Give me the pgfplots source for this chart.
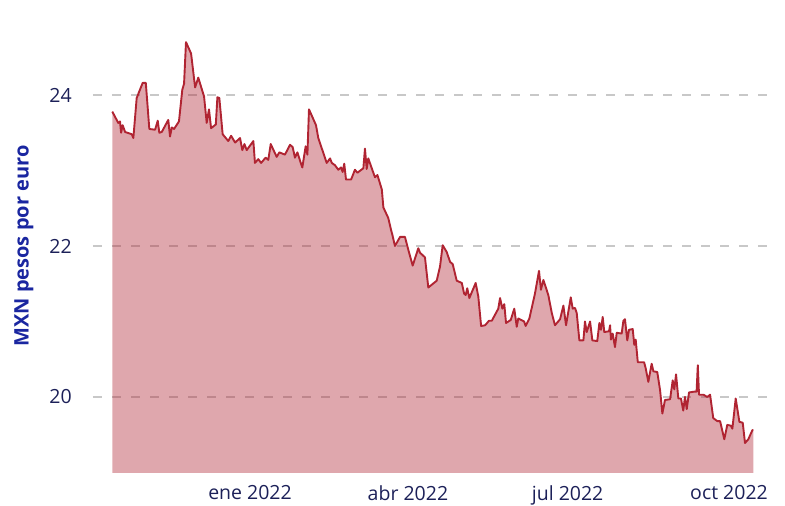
\documentclass[border=0pt]{standalone}
\usepackage{fontspec}
\setmainfont{Open Sans}
\usepackage{pgfplots}
\pgfplotsset{compat=1.18}
\definecolor{linecol}{RGB}{176,36,50}
\definecolor{tickcol}{RGB}{28,32,88}
\definecolor{labcol}{RGB}{26,38,160}
\definecolor{gridcol}{RGB}{200,200,200}
\begin{document}
\begin{tikzpicture}
\begin{axis}[
  scale only axis,
  width=682pt, height=438.4pt,
  xmin=-89.5, xmax=299.2,
  ymin=18.993, ymax=24.8,
  axis line style={draw=none},
  major tick length=0pt,
  xtick={0,90,181,273},
  xticklabels={ene 2022,abr 2022,jul 2022,oct 2022},
  ytick={20,22,24},
  /pgf/number format/assume math mode=true,
  ymajorgrids,
  major grid style={gridcol, line width=1.2pt, dash pattern=on 9pt off 10pt},
  tick label style={font=\fontsize{19.5}{22}\selectfont, text=tickcol},
  yticklabel style={inner sep=0pt, xshift=-21pt},
  xticklabel style={inner sep=0pt, yshift=-12pt},
  every axis y label/.style={at={(axis cs:-89.5,22)}, xshift=-69pt, rotate=90, anchor=center},
  ylabel={MXN pesos por euro},
  ylabel style={font=\fontsize{20}{23}\selectfont\bfseries, text=labcol},
  clip=true,
]
\addplot[draw=none, fill=linecol, fill opacity=0.4] coordinates {
(-78.5,23.78) (-75.1,23.63) (-74.1,23.65) (-73.5,23.50) (-72.6,23.60) (-71.2,23.51) (-67.4,23.48) (-66.5,23.43)
(-64.6,23.96) (-61.2,24.16) (-59.4,24.16) (-57.4,23.55) (-54.1,23.54) (-52.6,23.66) (-51.7,23.50) (-50.3,23.51)
(-46.6,23.67) (-45.6,23.45) (-44.6,23.57) (-43.3,23.55) (-40.5,23.65) (-38.6,24.07) (-37.6,24.15) (-36.5,24.70)
(-33.6,24.55) (-31.3,24.10) (-29.5,24.23) (-26.2,23.98) (-24.7,23.63) (-23.4,23.81) (-22.2,23.56) (-19.5,23.61)
(-18.6,23.97) (-17.5,23.96) (-15.6,23.48) (-12.4,23.39) (-10.8,23.46) (-8.5,23.37) (-5.7,23.43) (-4.4,23.27)
(-3.2,23.35) (-1.9,23.27) (1.9,23.39) (2.8,23.10) (4.7,23.15) (6.3,23.10) (8.9,23.17) (10.4,23.14)
(11.8,23.35) (15.2,23.18) (16.7,23.24) (19.9,23.21) (22.8,23.34) (24.3,23.31) (25.6,23.17) (27.0,23.24)
(28.5,23.13) (29.8,23.04) (31.7,23.32) (32.7,23.21) (33.6,23.81) (37.6,23.60) (38.9,23.43) (43.7,23.10)
(45.6,23.16) (46.6,23.10) (48.4,23.07) (50.3,23.01) (51.9,23.04) (52.8,22.98) (53.7,23.09) (54.7,22.88)
(57.6,22.88) (59.8,23.01) (61.2,22.97) (64.6,23.03) (65.5,23.29) (66.5,23.02) (67.4,23.16) (71.2,22.91)
(72.6,22.94) (75.1,22.75) (76.0,22.51) (78.8,22.37) (80.4,22.21) (81.1,22.15) (82.6,22.00) (85.5,22.12)
(88.3,22.12) (90.2,21.95) (92.7,21.74) (95.9,21.97) (96.9,21.91) (99.7,21.85) (101.6,21.45) (106.4,21.54)
(108.3,21.73) (109.8,22.01) (112.1,21.92) (114.0,21.79) (115.5,21.76) (117.8,21.54) (120.7,21.51) (122.0,21.37)
(122.9,21.35) (123.8,21.44) (125.0,21.31) (128.6,21.51) (130.1,21.33) (131.7,20.94) (134.0,20.95) (136.2,21.01)
(137.8,21.01) (141.5,21.17) (142.5,21.31) (143.8,21.17) (144.9,21.23) (145.9,20.98) (148.6,21.02) (150.6,21.17)
(152.0,20.93) (152.9,21.04) (156.2,21.00) (157.1,20.94) (159.2,21.04) (162.4,21.37) (164.7,21.67) (165.8,21.42)
(167.2,21.55) (170.0,21.35) (172.0,21.11) (173.8,20.95) (176.7,21.03) (178.6,21.21) (180.1,20.95) (182.8,21.32)
(183.9,21.17) (185.2,21.18) (186.2,21.11) (187.7,20.75) (190.0,20.75) (190.9,21.00) (191.9,20.86) (193.8,21.00)
(195.1,20.75) (197.9,20.74) (199.1,20.98) (200.0,20.89) (201.0,21.06) (201.9,20.86) (204.6,20.87) (205.2,20.95)
(205.7,20.76) (206.7,20.84) (208.0,20.66) (209.0,20.85) (211.8,20.84) (212.8,21.01) (213.7,21.03) (215.0,20.75)
(216.0,20.89) (218.1,20.90) (219.0,20.69) (219.8,20.76) (221.0,20.46) (224.6,20.46) (225.5,20.38) (227.0,20.20)
(228.9,20.44) (229.9,20.34) (232.1,20.33) (233.7,20.09) (235.0,19.78) (236.5,19.96) (239.4,19.97) (240.9,20.22)
(241.8,20.10) (242.8,20.30) (244.1,19.98) (245.6,19.98) (246.9,19.82) (247.9,20.00) (248.9,19.84) (250.2,20.06)
(253.0,20.07) (254.5,20.07) (255.2,20.42) (255.9,20.03) (258.4,20.03) (260.6,20.00) (262.2,20.03) (264.0,19.72)
(266.3,19.68) (267.9,19.68) (270.3,19.44) (272.0,19.63) (274.0,19.62) (274.9,19.58) (276.8,19.98) (278.9,19.67)
(280.8,19.66) (282.1,19.39) (284.0,19.44) (286.3,19.56) (286.8,19.56)
} \closedcycle;
\addplot[linecol, line width=1.9pt, line join=round] coordinates {
(-78.5,23.78) (-75.1,23.63) (-74.1,23.65) (-73.5,23.50) (-72.6,23.60) (-71.2,23.51) (-67.4,23.48) (-66.5,23.43)
(-64.6,23.96) (-61.2,24.16) (-59.4,24.16) (-57.4,23.55) (-54.1,23.54) (-52.6,23.66) (-51.7,23.50) (-50.3,23.51)
(-46.6,23.67) (-45.6,23.45) (-44.6,23.57) (-43.3,23.55) (-40.5,23.65) (-38.6,24.07) (-37.6,24.15) (-36.5,24.70)
(-33.6,24.55) (-31.3,24.10) (-29.5,24.23) (-26.2,23.98) (-24.7,23.63) (-23.4,23.81) (-22.2,23.56) (-19.5,23.61)
(-18.6,23.97) (-17.5,23.96) (-15.6,23.48) (-12.4,23.39) (-10.8,23.46) (-8.5,23.37) (-5.7,23.43) (-4.4,23.27)
(-3.2,23.35) (-1.9,23.27) (1.9,23.39) (2.8,23.10) (4.7,23.15) (6.3,23.10) (8.9,23.17) (10.4,23.14)
(11.8,23.35) (15.2,23.18) (16.7,23.24) (19.9,23.21) (22.8,23.34) (24.3,23.31) (25.6,23.17) (27.0,23.24)
(28.5,23.13) (29.8,23.04) (31.7,23.32) (32.7,23.21) (33.6,23.81) (37.6,23.60) (38.9,23.43) (43.7,23.10)
(45.6,23.16) (46.6,23.10) (48.4,23.07) (50.3,23.01) (51.9,23.04) (52.8,22.98) (53.7,23.09) (54.7,22.88)
(57.6,22.88) (59.8,23.01) (61.2,22.97) (64.6,23.03) (65.5,23.29) (66.5,23.02) (67.4,23.16) (71.2,22.91)
(72.6,22.94) (75.1,22.75) (76.0,22.51) (78.8,22.37) (80.4,22.21) (81.1,22.15) (82.6,22.00) (85.5,22.12)
(88.3,22.12) (90.2,21.95) (92.7,21.74) (95.9,21.97) (96.9,21.91) (99.7,21.85) (101.6,21.45) (106.4,21.54)
(108.3,21.73) (109.8,22.01) (112.1,21.92) (114.0,21.79) (115.5,21.76) (117.8,21.54) (120.7,21.51) (122.0,21.37)
(122.9,21.35) (123.8,21.44) (125.0,21.31) (128.6,21.51) (130.1,21.33) (131.7,20.94) (134.0,20.95) (136.2,21.01)
(137.8,21.01) (141.5,21.17) (142.5,21.31) (143.8,21.17) (144.9,21.23) (145.9,20.98) (148.6,21.02) (150.6,21.17)
(152.0,20.93) (152.9,21.04) (156.2,21.00) (157.1,20.94) (159.2,21.04) (162.4,21.37) (164.7,21.67) (165.8,21.42)
(167.2,21.55) (170.0,21.35) (172.0,21.11) (173.8,20.95) (176.7,21.03) (178.6,21.21) (180.1,20.95) (182.8,21.32)
(183.9,21.17) (185.2,21.18) (186.2,21.11) (187.7,20.75) (190.0,20.75) (190.9,21.00) (191.9,20.86) (193.8,21.00)
(195.1,20.75) (197.9,20.74) (199.1,20.98) (200.0,20.89) (201.0,21.06) (201.9,20.86) (204.6,20.87) (205.2,20.95)
(205.7,20.76) (206.7,20.84) (208.0,20.66) (209.0,20.85) (211.8,20.84) (212.8,21.01) (213.7,21.03) (215.0,20.75)
(216.0,20.89) (218.1,20.90) (219.0,20.69) (219.8,20.76) (221.0,20.46) (224.6,20.46) (225.5,20.38) (227.0,20.20)
(228.9,20.44) (229.9,20.34) (232.1,20.33) (233.7,20.09) (235.0,19.78) (236.5,19.96) (239.4,19.97) (240.9,20.22)
(241.8,20.10) (242.8,20.30) (244.1,19.98) (245.6,19.98) (246.9,19.82) (247.9,20.00) (248.9,19.84) (250.2,20.06)
(253.0,20.07) (254.5,20.07) (255.2,20.42) (255.9,20.03) (258.4,20.03) (260.6,20.00) (262.2,20.03) (264.0,19.72)
(266.3,19.68) (267.9,19.68) (270.3,19.44) (272.0,19.63) (274.0,19.62) (274.9,19.58) (276.8,19.98) (278.9,19.67)
(280.8,19.66) (282.1,19.39) (284.0,19.44) (286.3,19.56) (286.8,19.56)
};
\coordinate (bl) at (rel axis cs:0,0);
\end{axis}
\pgfresetboundingbox
\path ([shift={(-93pt,-33pt)}]bl) rectangle ([shift={(692pt,473pt)}]bl);
\end{tikzpicture}
\end{document}
